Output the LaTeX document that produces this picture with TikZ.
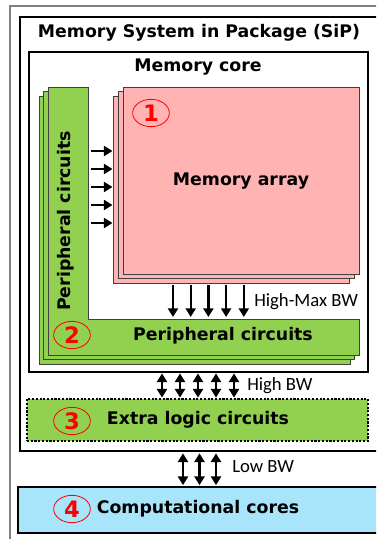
\documentclass[tikz,border=0pt]{standalone}
\usepackage{fontspec}
\setmainfont{DejaVu Sans}
\newfontfamily\lblfont{Carlito}
\usetikzlibrary{arrows.meta,shapes.geometric,fit}
\definecolor{gfill}{RGB}{146,208,80}
\definecolor{pfill}{RGB}{255,179,179}
\definecolor{bfill}{RGB}{168,228,250}
\definecolor{lgray}{RGB}{64,64,64}
\definecolor{fgray}{RGB}{128,128,128}
\tikzset{
  layer/.style={draw=lgray, line width=0.75pt, inner sep=0pt},
  boldtxt/.style={font=\fontsize{13}{15}\selectfont\bfseries, inner sep=0pt},
  lbl/.style={font=\lblfont\fontsize{14}{16}\selectfont, anchor=west, inner sep=0pt},
  num/.style={ellipse, draw=red, line width=0.6pt, text=red, inner sep=0pt,
    minimum width=27.5pt, minimum height=20.5pt, font=\fontsize{17}{17}\selectfont\bfseries},
  arr/.style={line width=1.8pt, -{Triangle[length=6.5pt,width=7.5pt]}},
  darr/.style={line width=1.8pt, {Triangle[length=6.5pt,width=7.5pt]}-{Triangle[length=6.5pt,width=7.5pt]}}
}
\begin{document}
\begin{tikzpicture}[x=0.75pt,y=-0.75pt]
\useasboundingbox (0,0) rectangle (376,539);
\clip (0,0) rectangle (376,539);
% outer gray frame
\draw[fgray, line width=1.1pt] (10,560) -- (10,6) -- (400,6);
% SiP box
\node (sip) [draw, line width=1.5pt, inner sep=0pt, fit={(20,17) (395,451)}] {};
\node (siptitle) [boldtxt] at (199,33) {Memory System in Package (SiP)};
% Memory core
\node (mc) [draw, line width=1.1pt, inner sep=0pt, fit={(29,52) (368,372)}] {};
\node (mctitle) [boldtxt] at (198,67) {Memory core};
% green L layers
\foreach \d in {2,1,0}{
  \filldraw[fill=gfill, draw=lgray, line width=0.75pt, shift={(-4.5*\d,4.5*\d)}]
    (48,87) -- (88,87) -- (88,319) -- (359,319) -- (359,355) -- (48,355) -- cycle;
}
\coordinate (hbartop) at (200,319);
\node (pvtext) [boldtxt, rotate=90] at (66,221) {Peripheral circuits};
\node (phtext) [boldtxt] at (223,336) {Peripheral circuits};
\node (n2) [num] at (72,335) {2};
% pink layers
\node (pk3) [layer, fill=pfill, fit={(113,96) (349,283)}] {};
\node (pk2) [layer, fill=pfill, fit={(118,91.5) (354,278.5)}] {};
\node (ma) [layer, fill=pfill, fit={(123,87) (359,274)}] {};
\node (matext) [boldtxt] at (241,181) {Memory array};
\node (n1) [num] at (151,113) {1};
% left arrows
\foreach \i in {0,...,4}{
  \coordinate (la\i) at (91,151+18*\i);
  \draw[arr] (la\i) -- (pk3.west |- la\i);
}
% down arrows
\foreach \i in {0,...,4}{
  \coordinate (da\i) at (173+17.7*\i,285);
  \draw[arr] (da\i) -- ([yshift=1.5pt]da\i |- hbartop);
}
\node (hmbw) [lbl] at (254,302) {High-Max BW};
% extra logic
\node (el) [draw, line width=1.1pt, dash pattern=on 1.6pt off 1.2pt, fill=gfill, inner sep=0pt, fit={(27,399) (368,441)}] {};
\node (eltext) [boldtxt] at (198,420) {Extra logic circuits};
\node (n3) [num] at (72,421) {3};
\foreach \i in {0,...,4}{
  \coordinate (hb\i) at (162+18*\i,385);
  \draw[darr] ([yshift=-0.5pt]mc.south -| hb\i) -- ([yshift=0.5pt]el.north -| hb\i);
}
\node (hbw) [lbl] at (247,386) {High BW};
% computational cores
\node (cc) [draw, line width=1.8pt, fill=bfill, inner sep=0pt, fit={(18,487) (400,533)}] {};
\node (cctext) [boldtxt] at (198,509) {Computational cores};
\node (n4) [num] at (72,509) {4};
\foreach \i in {0,1,2}{
  \coordinate (lb\i) at (183+16.5*\i,470);
  \draw[darr] ([yshift=-1pt]sip.south -| lb\i) -- ([yshift=0.5pt]cc.north -| lb\i);
}
\node (lbw) [lbl] at (232,467) {Low BW};
\end{tikzpicture}
\end{document}
